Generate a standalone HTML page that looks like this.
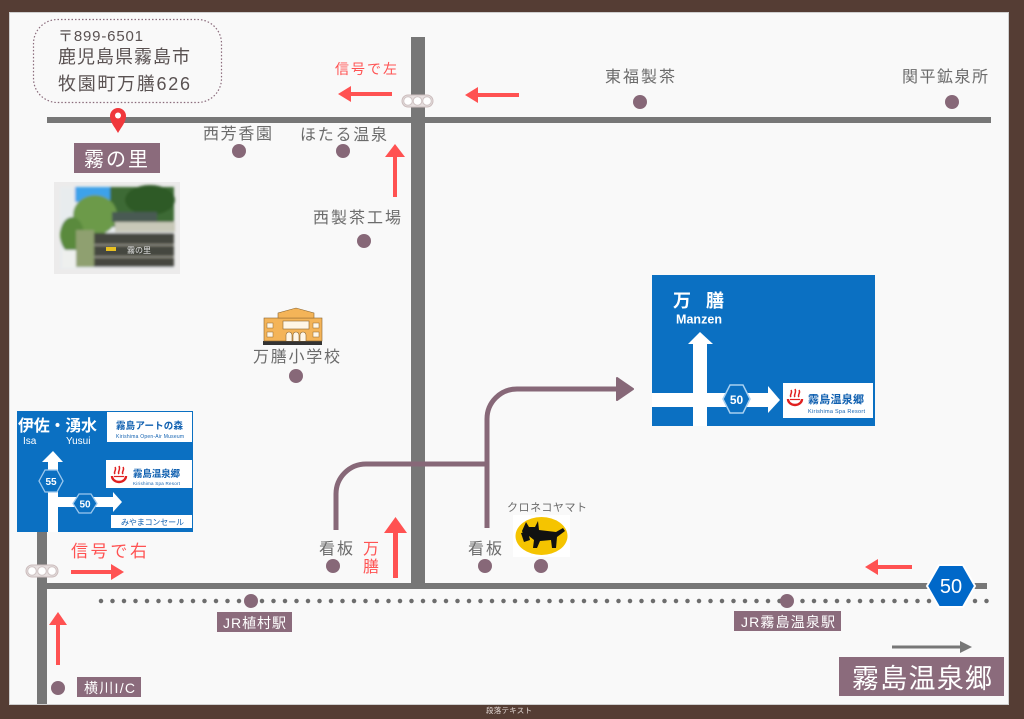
<!DOCTYPE html>
<html><head><meta charset="utf-8">
<style>
html,body{margin:0;padding:0;background:#553d34;}
svg{display:block;}
text{font-family:"Liberation Sans","Noto Sans CJK JP",sans-serif;}
</style></head>
<body>
<svg width="1024" height="719" viewBox="0 0 1024 719" xmlns="http://www.w3.org/2000/svg">
<defs>
  <g id="onsen">
    <path d="M1,10 A7,6 0 0 0 15,10" fill="none" stroke="#e02020" stroke-width="2.4"/>
    <path d="M3,10.5 L13,10.5" stroke="#e02020" stroke-width="1.2"/>
    <path d="M4,8 C2,6 6,4 4,1" fill="none" stroke="#e02020" stroke-width="1.5"/>
    <path d="M8,8 C6,6 10,4 8,0" fill="none" stroke="#e02020" stroke-width="1.5"/>
    <path d="M12,8 C10,6 14,4 12,1" fill="none" stroke="#e02020" stroke-width="1.5"/>
  </g>
  <filter id="blur1"><feGaussianBlur stdDeviation="1.2"/></filter>
</defs>
<rect width="1024" height="719" fill="#553d34"/>
<rect x="9.5" y="12.5" width="999" height="692" fill="#f9f9f9" stroke="#cfcfcf"/>
<text x="486" y="713" font-size="7.5" fill="#e6dcd8" textLength="46">段落テキスト</text>

<!-- address box -->
<rect x="33.5" y="19.5" width="188" height="83" rx="24" fill="none" stroke="#8a6b7b" stroke-width="1.2" stroke-dasharray="1.5 2"/>
<text x="58" y="41" font-size="15" fill="#5a5252" textLength="85">〒899-6501</text>
<text x="58" y="63" font-size="18" fill="#5a5252" textLength="132">鹿児島県霧島市</text>
<text x="58" y="90" font-size="18" fill="#5a5252" textLength="132">牧園町万膳626</text>

<!-- roads -->
<rect x="47" y="117" width="944" height="6" fill="#777"/>
<rect x="411" y="37" width="14" height="548" fill="#777"/>
<rect x="47" y="583" width="940" height="6" fill="#777"/>
<rect x="37" y="530" width="10" height="174" fill="#777"/>

<!-- railway -->
<line x1="101" y1="601" x2="990" y2="601" stroke="#6d6d6d" stroke-width="4.5" stroke-linecap="round" stroke-dasharray="0 11.5"/>
<circle cx="251" cy="601" r="7" fill="#876878"/>
<circle cx="787" cy="601" r="7" fill="#876878"/>

<!-- traffic lights -->
<rect x="402" y="95" width="31" height="12" rx="6" fill="#e6dede" stroke="#cbbcbc"/>
<circle cx="408" cy="101" r="4.3" fill="#fff" stroke="#cfc3c3"/>
<circle cx="417.5" cy="101" r="4.3" fill="#fff" stroke="#cfc3c3"/>
<circle cx="427" cy="101" r="4.3" fill="#fff" stroke="#cfc3c3"/>
<rect x="26" y="565" width="32" height="12" rx="6" fill="#e6dede" stroke="#cbbcbc"/>
<circle cx="32" cy="571" r="4.3" fill="#fff" stroke="#cfc3c3"/>
<circle cx="42" cy="571" r="4.3" fill="#fff" stroke="#cfc3c3"/>
<circle cx="52" cy="571" r="4.3" fill="#fff" stroke="#cfc3c3"/>

<!-- mauve route paths -->
<path d="M336,530 V494 A30,30 0 0 1 366,464 H487" fill="none" stroke="#876878" stroke-width="5"/>
<path d="M487,528 V419 A30,30 0 0 1 517,389 H622" fill="none" stroke="#876878" stroke-width="5"/>
<polygon points="617,378 633,389 617,400" fill="#876878" stroke="#876878" stroke-width="2" stroke-linejoin="round"/>

<!-- red arrows -->
<g fill="#ff5252" stroke="none">
  <rect x="349" y="92" width="43" height="4"/><polygon points="338,94 351,86 351,102"/>
  <rect x="476" y="93" width="43" height="4"/><polygon points="465,95 478,87 478,103"/>
  <rect x="393" y="154" width="4" height="43"/><polygon points="395,144 385,157 405,157"/>
  <rect x="393" y="530" width="5" height="48"/><polygon points="395.5,517 384,533 407,533"/>
  <rect x="71" y="570" width="43" height="4"/><polygon points="124,572 111,564 111,580"/>
  <rect x="876" y="565" width="36" height="4"/><polygon points="865,567 878,559 878,575"/>
  <rect x="56" y="622" width="4" height="43"/><polygon points="58,612 49,625 67,625"/>
</g>
<text x="335" y="74" font-size="14" fill="#ff5252" textLength="62">信号で左</text>
<text x="71" y="557" font-size="17" fill="#ff5252" textLength="76">信号で右</text>
<text x="363" y="554" font-size="16" fill="#ff5252">万</text>
<text x="363" y="572" font-size="16" fill="#ff5252">膳</text>

<!-- gray arrow -->
<rect x="892" y="645.5" width="70" height="3" fill="#777"/>
<polygon points="960,641 972,647 960,653" fill="#777"/>

<!-- place labels & dots -->
<g fill="#6b6b6b" font-size="16">
  <text x="203" y="139" textLength="69">西芳香園</text>
  <text x="300" y="140" textLength="87">ほたる温泉</text>
  <text x="313" y="223" textLength="88">西製茶工場</text>
  <text x="605" y="82" textLength="70">東福製茶</text>
  <text x="902" y="82" textLength="86">関平鉱泉所</text>
  <text x="253" y="362" textLength="87">万膳小学校</text>
  <text x="319" y="554" textLength="34">看板</text>
  <text x="468" y="554" textLength="34">看板</text>
  <text x="507" y="511" font-size="11" textLength="80">クロネコヤマト</text>
</g>
<g fill="#876878">
  <circle cx="239" cy="151" r="7"/>
  <circle cx="343" cy="151" r="7"/>
  <circle cx="364" cy="241" r="7"/>
  <circle cx="640" cy="102" r="7"/>
  <circle cx="952" cy="102" r="7"/>
  <circle cx="296" cy="376" r="7"/>
  <circle cx="333" cy="566" r="7"/>
  <circle cx="485" cy="566" r="7"/>
  <circle cx="541" cy="566" r="7"/>
  <circle cx="58" cy="688" r="7"/>
</g>

<!-- mauve labels -->
<g fill="#8b6b7c">
  <rect x="74" y="143" width="86" height="30"/>
  <rect x="217" y="612" width="75" height="20"/>
  <rect x="77" y="677" width="64" height="20"/>
  <rect x="734" y="611" width="107" height="20"/>
  <rect x="839" y="657" width="165" height="39"/>
</g>
<g fill="#ffffff">
  <text x="84" y="166" font-size="20" textLength="64">霧の里</text>
  <text x="223" y="628" font-size="14" textLength="63">JR植村駅</text>
  <text x="84" y="693" font-size="14" textLength="51">横川I/C</text>
  <text x="741" y="627" font-size="14" textLength="94">JR霧島温泉駅</text>
  <text x="852" y="688" font-size="27" textLength="140">霧島温泉郷</text>
</g>

<!-- marker -->
<path d="M118,133 C114,126 110,122 110,116 A8,8 0 0 1 126,116 C126,122 122,126 118,133 Z" fill="#f0383c"/>
<circle cx="118" cy="115.5" r="3" fill="#fff"/>

<!-- photo -->
<rect x="54" y="182" width="126" height="92" fill="#ecebeb"/>
<g filter="url(#blur1)">
  <rect x="60" y="187" width="114" height="82" fill="#e8ecee"/>
  <rect x="75" y="187" width="45" height="15" fill="#3da2ea"/>
  <rect x="110" y="187" width="64" height="40" fill="#3c6a34"/>
  <ellipse cx="150" cy="200" rx="25" ry="15" fill="#2e5a28"/>
  <ellipse cx="95" cy="215" rx="22" ry="20" fill="#6c9a48"/>
  <ellipse cx="72" cy="235" rx="12" ry="18" fill="#5a8a3e"/>
  <rect x="112" y="212" width="45" height="10" fill="#4a5a52"/>
  <rect x="115" y="222" width="60" height="10" fill="#c8c8b8"/>
  <rect x="94" y="233" width="80" height="34" fill="#44463f"/>
  <rect x="94" y="244" width="80" height="2" fill="#8a8a80"/>
  <rect x="94" y="256" width="80" height="2" fill="#8a8a80"/>
  <rect x="76" y="230" width="18" height="37" fill="#8fa070"/>
  <rect x="62" y="250" width="14" height="18" fill="#eef0ee"/>
</g>
<rect x="106" y="247" width="10" height="4" fill="#e8c020"/>
<text x="127" y="253" font-size="8" fill="#e0e0e0">霧の里</text>

<!-- school -->
<rect x="263" y="341" width="59" height="4" fill="#333"/>
<rect x="264" y="318" width="58" height="23" fill="#f4b458" stroke="#8a6530" stroke-width="0.6"/>
<polygon points="278,318 278,313 296,308 314,313 314,318" fill="#f4b458" stroke="#8a6530" stroke-width="0.6"/>
<rect x="283" y="321" width="26" height="8" fill="#fff6e6" stroke="#8a6530" stroke-width="0.6"/>
<path d="M286,341 v-6 a3,3 0 0 1 6,0 v6 M293,341 v-6 a3,3 0 0 1 6,0 v6 M300,341 v-6 a3,3 0 0 1 6,0 v6" fill="#fff6e6" stroke="#8a6530" stroke-width="0.6"/>
<rect x="267" y="323" width="6" height="5" fill="#fff6e6" stroke="#8a6530" stroke-width="0.5"/>
<rect x="267" y="332" width="6" height="5" fill="#fff6e6" stroke="#8a6530" stroke-width="0.5"/>
<rect x="313" y="323" width="6" height="5" fill="#fff6e6" stroke="#8a6530" stroke-width="0.5"/>
<rect x="313" y="332" width="6" height="5" fill="#fff6e6" stroke="#8a6530" stroke-width="0.5"/>

<!-- yamato -->
<rect x="513" y="515" width="57" height="42" fill="#fff"/>
<ellipse cx="541.5" cy="536" rx="26" ry="19" fill="#f5c400"/>
<path d="M526,522 L529,527 L535,527 L538,521 L539,530 L556,532 L563,528 L565,531 L557,537 L556,548 L552,548 L551,540 L540,541 L537,548 L533,548 L534,540 L529,536 L524,537 L522,531 Z" fill="#111"/>
<path d="M521,533 L528,532 L530,540 L524,542 Z" fill="#111"/>

<!-- left blue sign -->
<rect x="17" y="411" width="176" height="121" fill="#0b70c2"/>
<rect x="107" y="412" width="85" height="30" fill="#fff"/>
<rect x="106" y="460" width="86" height="28" fill="#fff"/>
<rect x="111" y="515" width="81" height="13" fill="#fff"/>
<text x="116" y="429" font-size="9.5" font-weight="bold" fill="#1060b0" textLength="67">霧島アートの森</text>
<text x="116" y="438" font-size="5" fill="#1060b0" textLength="68">Kirishima Open-Air Museum</text>
<use href="#onsen" x="111" y="466"/>
<text x="133" y="477" font-size="9.5" font-weight="bold" fill="#1060b0" textLength="47">霧島温泉郷</text>
<text x="133" y="485" font-size="4.5" fill="#1060b0" textLength="47">Kirishima Spa Resort</text>
<text x="121" y="525" font-size="8" fill="#1060b0" textLength="63">みやまコンセール</text>
<text x="18" y="431" font-size="16" font-weight="bold" fill="#fff" textLength="79">伊佐・湧水</text>
<text x="23" y="444" font-size="10" fill="#fff">Isa</text>
<text x="66" y="444" font-size="10" fill="#fff">Yusui</text>
<rect x="48" y="461" width="10" height="71" fill="#fff"/>
<polygon points="42,462 53,451 63,462" fill="#fff"/>
<rect x="58" y="497" width="56" height="10" fill="#fff"/>
<polygon points="113,492 122,502 113,512" fill="#fff"/>
<polygon points="39,481 45,470 57,470 63,481 57,492 45,492" fill="#0b70c2" stroke="#9cc8ee" stroke-width="1.3"/>
<text x="51" y="485" font-size="10" font-weight="bold" fill="#fff" text-anchor="middle">55</text>
<polygon points="73,503.5 79,494 91,494 97,503.5 91,513 79,513" fill="#0b70c2" stroke="#9cc8ee" stroke-width="1.3"/>
<text x="85" y="507.5" font-size="10" font-weight="bold" fill="#fff" text-anchor="middle">50</text>

<!-- right blue sign -->
<rect x="652" y="275" width="223" height="151" fill="#0b70c2"/>
<text x="673" y="307" font-size="18" font-weight="bold" fill="#fff">万</text>
<text x="706" y="307" font-size="18" font-weight="bold" fill="#fff">膳</text>
<text x="676" y="323.5" font-size="12.5" font-weight="bold" fill="#fff" textLength="46">Manzen</text>
<rect x="693" y="343" width="14" height="83" fill="#fff"/>
<polygon points="688,344 700,332 713,344" fill="#fff"/>
<rect x="652" y="393" width="117" height="14" fill="#fff"/>
<polygon points="768,386 780,400 768,413" fill="#fff"/>
<polygon points="723,399 730,385 743,385 750,399 743,413 730,413" fill="#0b70c2" stroke="#a8d0f0" stroke-width="1.5"/>
<text x="736.5" y="404" font-size="12" font-weight="bold" fill="#fff" text-anchor="middle">50</text>
<rect x="783" y="383" width="90" height="35" fill="#fff"/>
<use href="#onsen" x="787" y="389"/>
<text x="808" y="403" font-size="11" font-weight="bold" fill="#1060b0" textLength="56">霧島温泉郷</text>
<text x="808" y="413" font-size="5.5" fill="#1060b0" textLength="57">Kirishima Spa Resort</text>

<!-- route 50 hex -->
<polygon points="927,586 939,565 963,565 975,586 963,607 939,607" fill="#0068c9" stroke="#fff" stroke-width="2"/>
<text x="951" y="593" font-size="20" fill="#fff" text-anchor="middle">50</text>
</svg>
</body></html>
